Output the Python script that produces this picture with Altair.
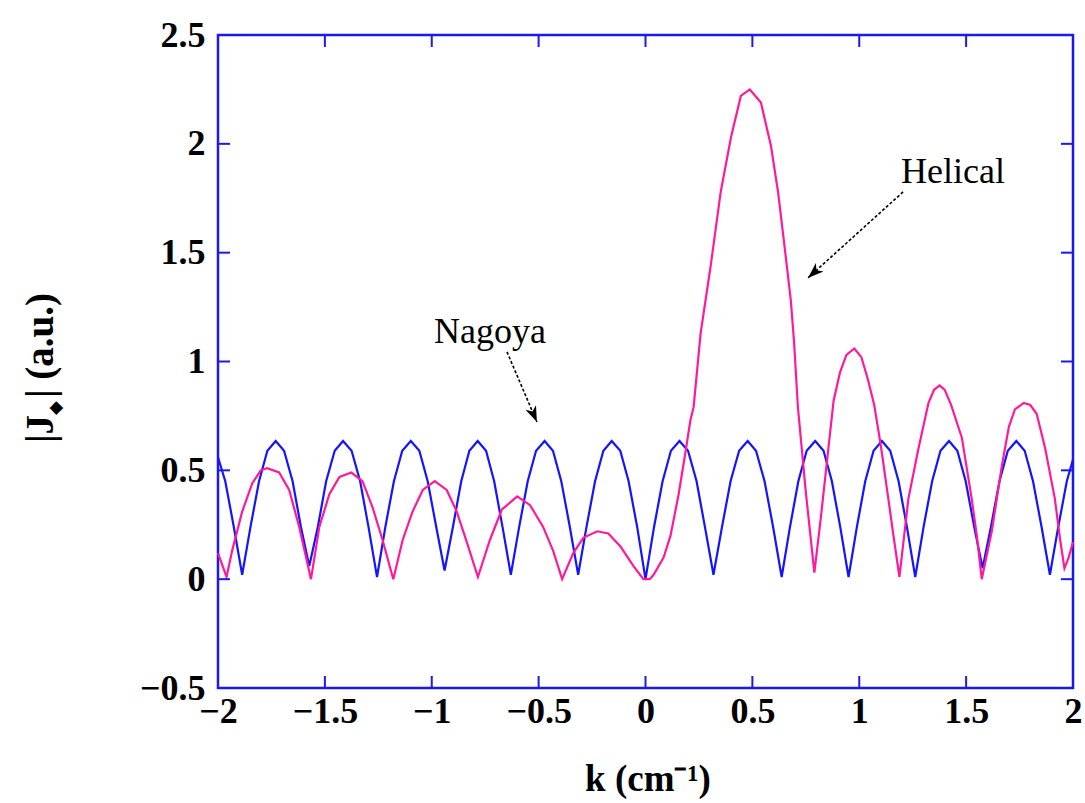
import altair as alt
import pandas as pd

# ---------------- data ----------------
helical_k = [-2.0, -1.96, -1.934, -1.887, -1.84, -1.80, -1.77, -1.714, -1.667, -1.62, -1.565,
             -1.526, -1.479, -1.432, -1.376, -1.324, -1.277, -1.23, -1.18,
             -1.136, -1.09, -1.042, -0.986, -0.93, -0.883, -0.836, -0.784,
             -0.728, -0.672, -0.60, -0.54, -0.479, -0.432, -0.39,
             -0.338, -0.291, -0.226, -0.174, -0.117, -0.056, -0.01, 0.02,
             0.038, 0.085, 0.117, 0.155, 0.188, 0.21, 0.225, 0.258, 0.305, 0.352, 0.40, 0.446,
             0.488, 0.54, 0.587, 0.62, 0.648, 0.68, 0.695, 0.713, 0.75, 0.79,
             0.82, 0.85, 0.88, 0.91, 0.94, 0.977, 1.01, 1.04, 1.07, 1.10, 1.136, 1.16, 1.188,
             1.23, 1.277, 1.324, 1.35, 1.376, 1.40, 1.43, 1.48, 1.526, 1.55, 1.573,
             1.62, 1.667, 1.70, 1.728, 1.77, 1.80, 1.83, 1.87, 1.915, 1.94, 1.96, 1.98, 2.0]
helical_v = [0.12, 0.01, 0.13, 0.31, 0.44, 0.50, 0.51, 0.49, 0.41, 0.24, 0.0,
             0.24, 0.39, 0.47, 0.49, 0.45, 0.33, 0.18, 0.0,
             0.18, 0.31, 0.41, 0.45, 0.41, 0.31, 0.17, 0.01,
             0.18, 0.32, 0.38, 0.34, 0.24, 0.13, 0.0,
             0.12, 0.19, 0.22, 0.21, 0.15, 0.06, 0.0, 0.0,
             0.02, 0.10, 0.20, 0.39, 0.59, 0.73, 0.79, 1.13, 1.44, 1.78, 2.03, 2.22,
             2.25, 2.19, 1.99, 1.78, 1.55, 1.28, 1.09, 0.79, 0.40, 0.03,
             0.28, 0.55, 0.82, 0.95, 1.03, 1.06, 1.02, 0.92, 0.80, 0.62, 0.37, 0.20, 0.01,
             0.37, 0.60, 0.81, 0.87, 0.89, 0.87, 0.80, 0.65, 0.37, 0.20, 0.0,
             0.22, 0.52, 0.70, 0.78, 0.81, 0.80, 0.76, 0.60, 0.37, 0.18, 0.05, 0.10, 0.17]

nagoya_k = [-2.0, -1.966, -1.926, -1.887,
            -1.848, -1.808, -1.769, -1.730, -1.691, -1.651, -1.612, -1.573,
            -1.533, -1.494, -1.454, -1.415, -1.375, -1.335, -1.296, -1.256,
            -1.217, -1.177, -1.138, -1.098, -1.058, -1.019, -0.979, -0.940,
            -0.901, -0.862, -0.824, -0.785, -0.746, -0.708, -0.669, -0.630,
            -0.591, -0.551, -0.512, -0.472, -0.433, -0.394, -0.354, -0.315,
            -0.276, -0.236, -0.197, -0.158, -0.118, -0.079, -0.039, 0.0,
            0.040, 0.080, 0.119, 0.159, 0.199, 0.239, 0.278, 0.318,
            0.358, 0.398, 0.438, 0.478, 0.517, 0.557, 0.597, 0.637,
            0.676, 0.715, 0.754, 0.794, 0.833, 0.872, 0.911, 0.950,
            0.989, 1.028, 1.067, 1.106, 1.145, 1.184, 1.223, 1.262,
            1.301, 1.341, 1.380, 1.420, 1.459, 1.498, 1.538, 1.577,
            1.616, 1.656, 1.695, 1.735, 1.774, 1.813, 1.853, 1.892,
            1.931, 1.971, 2.0]
nagoya_v = [0.56, 0.45, 0.24, 0.02,
            0.24, 0.45, 0.59, 0.635, 0.59, 0.45, 0.24, 0.06,
            0.24, 0.45, 0.59, 0.635, 0.59, 0.45, 0.24, 0.01,
            0.24, 0.45, 0.59, 0.635, 0.59, 0.45, 0.24, 0.04,
            0.24, 0.45, 0.59, 0.635, 0.59, 0.45, 0.24, 0.02,
            0.24, 0.45, 0.59, 0.635, 0.59, 0.45, 0.24, 0.02,
            0.24, 0.45, 0.59, 0.635, 0.59, 0.45, 0.24, 0.0,
            0.24, 0.45, 0.59, 0.635, 0.59, 0.45, 0.24, 0.02,
            0.24, 0.45, 0.59, 0.635, 0.59, 0.45, 0.24, 0.01,
            0.24, 0.45, 0.59, 0.635, 0.59, 0.45, 0.24, 0.01,
            0.24, 0.45, 0.59, 0.635, 0.59, 0.45, 0.24, 0.01,
            0.24, 0.45, 0.59, 0.635, 0.59, 0.45, 0.24, 0.05,
            0.24, 0.45, 0.59, 0.635, 0.59, 0.45, 0.24, 0.02,
            0.24, 0.45, 0.55]

x_ticks = [-2, -1.5, -1, -0.5, 0, 0.5, 1, 1.5, 2]
y_ticks = [-0.5, 0, 0.5, 1, 1.5, 2, 2.5]
x_inner_ticks = [-1.5, -1, -0.5, 0, 0.5, 1, 1.5]
y_inner_ticks = [0, 0.5, 1, 1.5, 2]

labels = ["Nagoya", "Helical"]
label_k = [-0.727, 1.439]
label_v = [1.136, 1.871]
arrow_k = [-0.648, 1.205]
arrow_v = [1.044, 1.779]
tip_k = [-0.508, 0.760]
tip_v = [0.722, 1.384]
tip_angle = [157, 228]

x_title = ["k (cm⁻¹)"]
y_title_a = ["|J"]
y_title_sub = ["◆"]
y_title_b = ["|  (a.u.)"]

# ---------------- chart ----------------
W, H = 855, 653
FRAME = "#1a1aee"
PINK = "#ff1a9c"
BLUE = "#1414ff"

xscale = alt.Scale(domain=[-2, 2], nice=False, zero=False)
yscale = alt.Scale(domain=[-0.5, 2.5], nice=False, zero=False)
lab = dict(labelFont="Liberation Serif", labelFontWeight="bold", labelFontSize=36,
           labelColor="black", domain=False, ticks=False, tickSize=0, grid=False,
           title=None, format="~g")
xaxis = alt.Axis(values=x_ticks, labelPadding=6, labelFlush=False, **lab)
yaxis = alt.Axis(values=y_ticks, labelPadding=13, **lab)

X = alt.X("k:Q", scale=xscale, axis=xaxis)
Y = alt.Y("v:Q", scale=yscale, axis=yaxis)

hel = pd.DataFrame({"k": helical_k, "v": helical_v})
nag = pd.DataFrame({"k": nagoya_k, "v": nagoya_v})

nag_line = alt.Chart(nag).mark_line(color=BLUE, strokeWidth=2.2).encode(x=X, y=Y)
hel_line = alt.Chart(hel).mark_line(color=PINK, strokeWidth=2.2).encode(x=X, y=Y)

xt = pd.DataFrame({"k": x_inner_ticks})
yt = pd.DataFrame({"v": y_inner_ticks})
tick_bottom = alt.Chart(xt).mark_rule(color=FRAME, strokeWidth=2).encode(
    x=X, y=alt.value(H), y2=alt.value(H - 12))
tick_top = alt.Chart(xt).mark_rule(color=FRAME, strokeWidth=2).encode(
    x=X, y=alt.value(0), y2=alt.value(12))
tick_left = alt.Chart(yt).mark_rule(color=FRAME, strokeWidth=2).encode(
    y=Y, x=alt.value(0), x2=alt.value(12))
tick_right = alt.Chart(yt).mark_rule(color=FRAME, strokeWidth=2).encode(
    y=Y, x=alt.value(W - 12), x2=alt.value(W))

ann = pd.DataFrame({"label": labels, "k": label_k, "v": label_v,
                    "k0": arrow_k, "v0": arrow_v, "k1": tip_k, "v1": tip_v,
                    "ang": tip_angle})
ann_text = alt.Chart(ann).mark_text(font="Liberation Serif", fontSize=36, color="black",
                                    align="center", baseline="middle").encode(
    x=X, y=Y, text="label:N")
ann_shaft = alt.Chart(ann).mark_rule(color="black", strokeWidth=1.6, strokeDash=[3, 2]).encode(
    x=alt.X("k0:Q", scale=xscale, axis=xaxis), x2="k1:Q",
    y=alt.Y("v0:Q", scale=yscale, axis=yaxis), y2="v1:Q")
ann_head = alt.Chart(ann).mark_point(
    shape="M0,0 L-0.36,1 L0,0.72 L0.36,1 Z", filled=True, color="black",
    opacity=1, size=1000, strokeWidth=0).encode(
    x=alt.X("k1:Q", scale=xscale, axis=xaxis),
    y=alt.Y("v1:Q", scale=yscale, axis=yaxis),
    angle=alt.Angle("ang:Q", scale=None))

xt_df = pd.DataFrame({"t": x_title})
xtitle = alt.Chart(xt_df).mark_text(font="Liberation Serif", fontWeight="bold", fontSize=37,
                                    color="black", align="center", baseline="alphabetic").encode(
    x=alt.value(430), y=alt.value(756), text="t:N")

ya = alt.Chart(pd.DataFrame({"t": y_title_a})).mark_text(
    font="Liberation Serif", fontWeight="bold", fontSize=39, color="black",
    align="left", baseline="alphabetic", angle=270).encode(
    x=alt.value(-165), y=alt.value(408), text="t:N")
ysub = alt.Chart(pd.DataFrame({"t": y_title_sub})).mark_text(
    font="DejaVu Sans", fontSize=18, color="black",
    align="center", baseline="middle", angle=270).encode(
    x=alt.value(-162), y=alt.value(373), text="t:N")
yb = alt.Chart(pd.DataFrame({"t": y_title_b})).mark_text(
    font="Liberation Serif", fontWeight="bold", fontSize=39, color="black",
    align="left", baseline="alphabetic", angle=270).encode(
    x=alt.value(-165), y=alt.value(363), text="t:N")

chart = alt.layer(
    nag_line, hel_line, tick_bottom, tick_top, tick_left, tick_right,
    ann_shaft, ann_head, ann_text, xtitle, ya, ysub, yb
).properties(
    width=W, height=H,
    padding={"left": 218, "top": 35, "right": 12, "bottom": 115},
    autosize=alt.AutoSizeParams(type="none"),
    background="white",
).configure_view(stroke=FRAME, strokeWidth=2.5)

chart.save("out.html", embed_options={"renderer": "svg", "actions": False})
